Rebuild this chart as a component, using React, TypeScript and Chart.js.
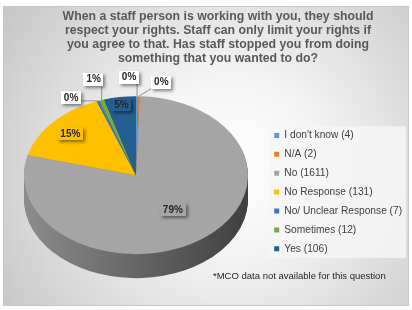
import React, { useEffect, useRef } from "react";
import { Chart, registerables } from "chart.js";

Chart.register(...registerables);

// ---------- data ----------
const CATEGORIES = [
  "I don't know (4)",
  "N/A (2)",
  "No (1611)",
  "No Response (131)",
  "No/ Unclear Response (7)",
  "Sometimes (12)",
  "Yes (106)",
];
const SHARES = [0.3, 0.2, 78.6, 15.2, 0.4, 0.7, 4.6];
const COLORS = ["#5B9BD5", "#ED7D31", "#A5A5A5", "#FFC000", "#4472C4", "#70AD47", "#255E91"];
const TITLE_LINES = [
  "When a staff person is working with you, they should",
  "respect your rights. Staff can only limit your rights if",
  "you agree to that. Has staff stopped you from doing",
  "something that you wanted to do?",
];
const FOOTNOTE = "*MCO data not available for this question";

// ---------- layout / style ----------
const FONT = "'Liberation Sans', Arial, sans-serif";
const RADIUS = 112;
const TILT = 0.705;
const DEPTH = 24;
const TOP_GAP = 20;
const INSIDE: Record<number, number> = { 2: 0.55, 3: 0.79, 6: 0.9 };
const OUTSIDE: Record<number, [number, number]> = {
  0: [-8, -19],
  1: [22.5, -14],
  4: [-27, -3.5],
  5: [-8, -21],
};

function shade(hex: string, f: number) {
  const n = parseInt(hex.slice(1), 16);
  const r = Math.round(((n >> 16) & 255) * f);
  const g = Math.round(((n >> 8) & 255) * f);
  const b = Math.round((n & 255) * f);
  return `rgb(${r},${g},${b})`;
}

function geom(chart: any) {
  const arc = chart.getDatasetMeta(0).data[0];
  const ca = chart.chartArea;
  const r = arc.outerRadius;
  return { x0: arc.x, y0: arc.y, r, tx: ca.left + r, ty: ca.top + TOP_GAP + r * TILT };
}
function applyTilt(ctx: CanvasRenderingContext2D, g: any, dy: number) {
  ctx.translate(g.tx, g.ty + dy);
  ctx.scale(1, TILT);
  ctx.translate(-g.x0, -g.y0);
}
function project(g: any, px: number, py: number): [number, number] {
  return [g.tx + (px - g.x0), g.ty + (py - g.y0) * TILT];
}

const framePlugin = {
  id: "frame",
  beforeDraw(chart: any) {
    const { ctx, width, height } = chart;
    ctx.save();
    ctx.fillStyle = "#ffffff";
    ctx.fillRect(0, 0, width, height);
    const grd = ctx.createRadialGradient(230, 165, 0, 230, 165, 290);
    grd.addColorStop(0, "#ffffff");
    grd.addColorStop(0.3, "#f5f5f5");
    grd.addColorStop(1, "#c2c2c2");
    ctx.fillStyle = grd;
    ctx.fillRect(3.5, 6.5, 405, 299);
    ctx.strokeStyle = "#c8c8c8";
    ctx.lineWidth = 1;
    ctx.strokeRect(3.5, 6.5, 405, 299);
    const lg = chart.legend;
    if (lg && lg.legendHitBoxes && lg.legendHitBoxes.length) {
      const hb = lg.legendHitBoxes;
      const left = Math.min(...hb.map((h: any) => h.left)) - 5;
      const top = Math.min(...hb.map((h: any) => h.top)) - 4;
      const bottom = Math.max(...hb.map((h: any) => h.top + h.height)) + 4;
      const right = Math.min(width - 5, Math.max(...hb.map((h: any) => h.left + h.width)) + 4);
      ctx.fillStyle = "rgba(246,246,246,0.85)";
      ctx.fillRect(left, top, right - left, bottom - top);
    }
    ctx.restore();
  },
};

const pie3dPlugin = {
  id: "pie3d",
  beforeDatasetsDraw(chart: any) {
    const ctx = chart.ctx as CanvasRenderingContext2D;
    const meta = chart.getDatasetMeta(0);
    const g = geom(chart);
    for (let d = DEPTH; d >= 1; d--) {
      ctx.save();
      applyTilt(ctx, g, d);
      meta.data.forEach((arc: any, i: number) => {
        const grad = ctx.createLinearGradient(g.x0 - g.r, 0, g.x0 + g.r, 0);
        grad.addColorStop(0, shade(COLORS[i], 0.85));
        grad.addColorStop(0.5, shade(COLORS[i], 0.62));
        grad.addColorStop(1, shade(COLORS[i], 0.38));
        const fake = Object.create(arc);
        fake.options = { ...arc.options, backgroundColor: grad, borderWidth: 0 };
        fake.draw(ctx);
      });
      ctx.restore();
    }
    ctx.save();
    applyTilt(ctx, g, 0);
  },
  afterDatasetsDraw(chart: any) {
    chart.ctx.restore();
  },
};

const labelPlugin = {
  id: "pieLabels",
  afterDraw(chart: any) {
    const ctx = chart.ctx as CanvasRenderingContext2D;
    const meta = chart.getDatasetMeta(0);
    const g = geom(chart);
    const total = SHARES.reduce((a, b) => a + b, 0);
    ctx.save();
    ctx.font = `bold 10px ${FONT}`;
    ctx.textAlign = "center";
    ctx.textBaseline = "middle";
    meta.data.forEach((arc: any, i: number) => {
      const a = (arc.startAngle + arc.endAngle) / 2;
      const text = Math.round((SHARES[i] / total) * 100) + "%";
      const w = ctx.measureText(text).width + 6;
      const h = 13;
      let cx: number, cy: number, fill: string;
      if (INSIDE[i] != null) {
        const f = INSIDE[i];
        [cx, cy] = project(g, g.x0 + Math.cos(a) * g.r * f, g.y0 + Math.sin(a) * g.r * f);
        fill = COLORS[i];
      } else {
        const [ax, ay] = project(g, g.x0 + Math.cos(a) * g.r, g.y0 + Math.sin(a) * g.r);
        const off = OUTSIDE[i] || [0, -15];
        cx = ax + off[0];
        cy = ay + off[1];
        fill = "#ffffff";
        const bx = Math.max(cx - w / 2, Math.min(ax, cx + w / 2));
        const by = Math.max(cy - h / 2, Math.min(ay, cy + h / 2));
        ctx.strokeStyle = "#8f8f8f";
        ctx.lineWidth = 1;
        ctx.beginPath();
        ctx.moveTo(ax, ay);
        ctx.lineTo(bx, by);
        ctx.stroke();
      }
      ctx.save();
      ctx.shadowColor = "rgba(0,0,0,0.45)";
      ctx.shadowBlur = 3;
      ctx.shadowOffsetX = 2;
      ctx.shadowOffsetY = 2;
      ctx.fillStyle = fill;
      ctx.fillRect(Math.round(cx - w / 2), Math.round(cy - h / 2), Math.round(w), h);
      ctx.restore();
      ctx.fillStyle = "#262626";
      ctx.fillText(text, cx, cy + 0.5);
    });
    ctx.font = `9.5px ${FONT}`;
    ctx.textAlign = "left";
    ctx.fillStyle = "#262626";
    ctx.fillText(FOOTNOTE, 213, 276);
    ctx.restore();
  },
};

export default function App() {
  const ref = useRef<HTMLCanvasElement>(null);
  useEffect(() => {
    document.body.style.margin = "0";
    const chart = new Chart(ref.current as HTMLCanvasElement, {
      type: "pie",
      data: {
        labels: CATEGORIES,
        datasets: [
          {
            data: SHARES,
            backgroundColor: COLORS,
            borderWidth: 0,
            radius: RADIUS,
          } as any,
        ],
      },
      options: {
        responsive: false,
        animation: false,
        devicePixelRatio: 1,
        events: [],
        layout: { padding: { left: 24, right: 0, top: 0, bottom: 2 } },
        plugins: {
          title: {
            display: true,
            text: TITLE_LINES,
            color: "#595959",
            font: { family: FONT, size: 12.3, weight: "bold", lineHeight: 1.163 },
            padding: { top: 9, bottom: 10 },
          },
          legend: {
            display: true,
            position: "right",
            align: "center",
            fullSize: false,
            maxWidth: 146.5,
            labels: {
              boxWidth: 5,
              boxHeight: 5,
              padding: 8.7,
              color: "#404040",
              font: { family: FONT, size: 10.2 },
            },
          },
          tooltip: { enabled: false },
        },
      },
      plugins: [framePlugin, pie3dPlugin, labelPlugin],
    });
    return () => chart.destroy();
  }, []);
  return (
    <div style={{ position: "absolute", left: 0, top: 0, width: 412, height: 310 }}>
      <canvas ref={ref} width={412} height={310} style={{ display: "block", width: 412, height: 310 }} />
    </div>
  );
}
